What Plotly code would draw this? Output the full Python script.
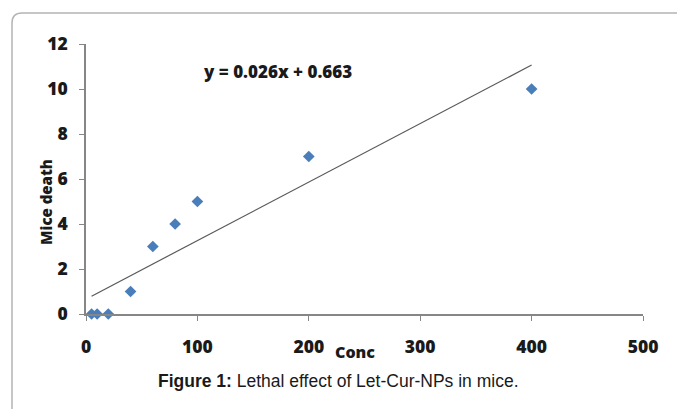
import plotly.graph_objects as go

conc = [5, 10, 20, 40, 60, 80, 100, 200, 400]
deaths = [0, 0, 0, 1, 3, 4, 5, 7, 10]
slope = 0.026
intercept = 0.663
trend_x = [5, 400]
x_ticks = [0, 100, 200, 300, 400, 500]
y_ticks = [0, 2, 4, 6, 8, 10, 12]

W, H = 677, 409
L, R, T, B = 86, 643, 44, 314

def px(x):
    return (x - L) / (R - L)

def py(y):
    return (B - y) / (B - T)

FONT = "Open Sans, Lato, sans-serif"
fig = go.Figure()
fig.add_trace(go.Scatter(
    x=trend_x, y=[slope * v + intercept for v in trend_x], mode="lines",
    line=dict(color="#5a5a5a", width=1.2), hoverinfo="skip", showlegend=False))
fig.add_trace(go.Scatter(
    x=conc, y=deaths, mode="markers",
    marker=dict(symbol="diamond", size=9, color="#4a7ebb"), showlegend=False,
    cliponaxis=False))

tickfont = dict(family=FONT, size=17.5, color="#1a1a1a", weight=800)
fig.update_xaxes(range=[0, 500], tickvals=x_ticks, ticks="outside", ticklen=5,
                 tickcolor="#868686", showline=True, linecolor="#868686", linewidth=1.5,
                 showgrid=False, zeroline=False, tickfont=tickfont, ticklabelstandoff=11)
fig.update_yaxes(range=[0, 12], tickvals=y_ticks, ticks="outside", ticklen=5,
                 tickcolor="#868686", showline=True, linecolor="#868686", linewidth=1.5,
                 showgrid=False, zeroline=False, tickfont=tickfont, ticklabelstandoff=8)

annots = [
    dict(x=px(355), y=py(352), text="Conc", font=dict(family=FONT, size=16, color="#1a1a1a", weight=800)),
    dict(x=px(46), y=py(202), text="Mice death", textangle=-90,
         font=dict(family=FONT, size=15, color="#1a1a1a", weight=800)),
    dict(x=px(277), y=py(71), text="y = 0.026x + 0.663",
         font=dict(family=FONT, size=17, color="#1a1a1a", weight=800)),
    dict(x=px(338), y=py(381), text="<b>Figure 1:</b> Lethal effect of Let-Cur-NPs in mice.",
         font=dict(family="Liberation Sans, Arial, sans-serif", size=17.5, color="#1a1a1a")),
]
for a in annots:
    a.update(xref="paper", yref="paper", showarrow=False, xanchor="center", yanchor="middle")

r = 10
path = (f"M {px(12)} {py(409)} L {px(12)} {py(13 + r)} "
        f"Q {px(12)} {py(13)} {px(12 + r)} {py(13)} L {px(677)} {py(13)}")
fig.update_layout(
    width=W, height=H,
    margin=dict(l=L, r=W - R, t=T, b=H - B),
    paper_bgcolor="white", plot_bgcolor="white",
    annotations=annots,
    shapes=[dict(type="path", path=path, xref="paper", yref="paper",
                 line=dict(color="#b4b4b4", width=1.5))],
)
fig.write_html("out.html")
